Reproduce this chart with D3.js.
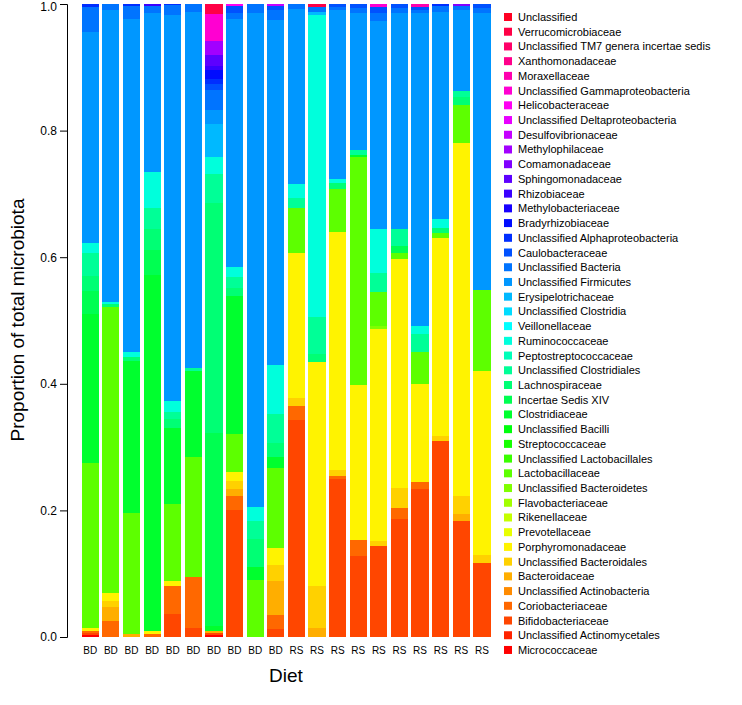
<!DOCTYPE html>
<html>
<head>
<meta charset="utf-8">
<script src="https://cdn.jsdelivr.net/npm/d3@7"></script>
<style>
body { margin: 0; background: #fff; }
text { font-family: "Liberation Sans", Arial, sans-serif; fill: #000; }
</style>
</head>
<body>
<script>
// families, bottom of the stack first
var families = ["Micrococcaceae", "Unclassified Actinomycetales", "Bifidobacteriaceae",
  "Coriobacteriaceae", "Unclassified Actinobacteria", "Bacteroidaceae",
  "Unclassified Bacteroidales", "Porphyromonadaceae", "Prevotellaceae", "Rikenellaceae",
  "Flavobacteriaceae", "Unclassified Bacteroidetes", "Lactobacillaceae",
  "Unclassified Lactobacillales", "Streptococcaceae", "Unclassified Bacilli",
  "Clostridiaceae", "Incertae Sedis XIV", "Lachnospiraceae", "Unclassified Clostridiales",
  "Peptostreptococcaceae", "Ruminococcaceae", "Veillonellaceae", "Unclassified Clostridia",
  "Erysipelotrichaceae", "Unclassified Firmicutes", "Unclassified Bacteria",
  "Caulobacteraceae", "Unclassified Alphaproteobacteria", "Bradyrhizobiaceae",
  "Methylobacteriaceae", "Rhizobiaceae", "Sphingomonadaceae", "Comamonadaceae",
  "Methylophilaceae", "Desulfovibrionaceae", "Unclassified Deltaproteobacteria",
  "Helicobacteraceae", "Unclassified Gammaproteobacteria", "Moraxellaceae",
  "Xanthomonadaceae", "Unclassified TM7 genera incertae sedis", "Verrucomicrobiaceae",
  "Unclassified"];

var diets = ["BD", "BD", "BD", "BD", "BD", "BD", "BD", "BD", "BD", "BD",
             "RS", "RS", "RS", "RS", "RS", "RS", "RS", "RS", "RS", "RS"];

var yTicks = [0, 0.2, 0.4, 0.6, 0.8, 1.0];

// proportion of each family in each sample
var bd1 = [["Micrococcaceae", 0.003], ["Bifidobacteriaceae", 0.004], ["Coriobacteriaceae", 0.003],
  ["Porphyromonadaceae", 0.005], ["Lactobacillaceae", 0.260], ["Clostridiaceae", 0.235],
  ["Incertae Sedis XIV", 0.037], ["Lachnospiraceae", 0.023], ["Unclassified Clostridiales", 0.036],
  ["Ruminococcaceae", 0.016], ["Unclassified Firmicutes", 0.334], ["Unclassified Bacteria", 0.040],
  ["Unclassified Alphaproteobacteria", 0.004]];
var bd2 = [["Coriobacteriaceae", 0.025], ["Bacteroidaceae", 0.022], ["Unclassified Bacteroidales", 0.010],
  ["Porphyromonadaceae", 0.013], ["Lactobacillaceae", 0.452], ["Lachnospiraceae", 0.004],
  ["Ruminococcaceae", 0.004], ["Unclassified Firmicutes", 0.460], ["Unclassified Bacteria", 0.010]];
var bd3 = [["Bacteroidaceae", 0.004], ["Lactobacillaceae", 0.192], ["Clostridiaceae", 0.240],
  ["Lachnospiraceae", 0.007], ["Ruminococcaceae", 0.007], ["Unclassified Firmicutes", 0.527],
  ["Unclassified Bacteria", 0.020], ["Unclassified Alphaproteobacteria", 0.003]];
var bd4 = [["Coriobacteriaceae", 0.005], ["Porphyromonadaceae", 0.004], ["Clostridiaceae", 0.563],
  ["Incertae Sedis XIV", 0.040], ["Lachnospiraceae", 0.033], ["Unclassified Clostridiales", 0.033],
  ["Ruminococcaceae", 0.057], ["Unclassified Firmicutes", 0.250], ["Unclassified Bacteria", 0.012],
  ["Rhizobiaceae", 0.003]];
var bd5 = [["Bifidobacteriaceae", 0.036], ["Coriobacteriaceae", 0.045], ["Porphyromonadaceae", 0.007],
  ["Lactobacillaceae", 0.122], ["Clostridiaceae", 0.120], ["Lachnospiraceae", 0.015],
  ["Unclassified Clostridiales", 0.010], ["Ruminococcaceae", 0.018], ["Unclassified Firmicutes", 0.610],
  ["Unclassified Bacteria", 0.015], ["Unclassified Alphaproteobacteria", 0.002]];
var bd6 = [["Bifidobacteriaceae", 0.015], ["Coriobacteriaceae", 0.080], ["Lactobacillaceae", 0.190],
  ["Clostridiaceae", 0.135], ["Unclassified Clostridiales", 0.005], ["Unclassified Firmicutes", 0.562],
  ["Unclassified Bacteria", 0.013]];
var bd7 = [["Micrococcaceae", 0.003], ["Bifidobacteriaceae", 0.004], ["Bacteroidaceae", 0.003],
  ["Clostridiaceae", 0.007], ["Incertae Sedis XIV", 0.306], ["Lachnospiraceae", 0.362],
  ["Unclassified Clostridiales", 0.046], ["Ruminococcaceae", 0.028], ["Erysipelotrichaceae", 0.051],
  ["Unclassified Firmicutes", 0.023], ["Unclassified Bacteria", 0.031], ["Caulobacteraceae", 0.010],
  ["Unclassified Alphaproteobacteria", 0.008], ["Bradyrhizobiaceae", 0.013], ["Rhizobiaceae", 0.007],
  ["Sphingomonadaceae", 0.017], ["Methylophilaceae", 0.023],
  ["Unclassified Gammaproteobacteria", 0.042], ["Verrucomicrobiaceae", 0.016]];
var bd8 = [["Bifidobacteriaceae", 0.200], ["Coriobacteriaceae", 0.022], ["Bacteroidaceae", 0.012],
  ["Unclassified Bacteroidales", 0.012], ["Porphyromonadaceae", 0.014], ["Lactobacillaceae", 0.060],
  ["Clostridiaceae", 0.218], ["Lachnospiraceae", 0.014], ["Unclassified Clostridiales", 0.016],
  ["Ruminococcaceae", 0.017], ["Unclassified Firmicutes", 0.391], ["Unclassified Bacteria", 0.009],
  ["Caulobacteraceae", 0.012], ["Helicobacteraceae", 0.003]];
var bd9 = [["Lactobacillaceae", 0.090], ["Clostridiaceae", 0.020], ["Lachnospiraceae", 0.045],
  ["Unclassified Clostridiales", 0.028], ["Ruminococcaceae", 0.022], ["Unclassified Firmicutes", 0.781],
  ["Unclassified Bacteria", 0.014]];
var bd10 = [["Bifidobacteriaceae", 0.012], ["Coriobacteriaceae", 0.022], ["Bacteroidaceae", 0.055],
  ["Unclassified Bacteroidales", 0.025], ["Porphyromonadaceae", 0.026], ["Lactobacillaceae", 0.127],
  ["Clostridiaceae", 0.018], ["Lachnospiraceae", 0.022], ["Unclassified Clostridiales", 0.045],
  ["Ruminococcaceae", 0.078], ["Unclassified Firmicutes", 0.545], ["Unclassified Bacteria", 0.015],
  ["Caulobacteraceae", 0.007], ["Desulfovibrionaceae", 0.003]];
var rs1 = [["Bifidobacteriaceae", 0.343], ["Coriobacteriaceae", 0.022], ["Unclassified Bacteroidales", 0.012],
  ["Porphyromonadaceae", 0.229], ["Lactobacillaceae", 0.072], ["Unclassified Clostridiales", 0.015],
  ["Ruminococcaceae", 0.022], ["Unclassified Firmicutes", 0.277], ["Unclassified Bacteria", 0.008]];
var rs2 = [["Bacteroidaceae", 0.014], ["Unclassified Bacteroidales", 0.066], ["Porphyromonadaceae", 0.355],
  ["Lachnospiraceae", 0.012], ["Unclassified Clostridiales", 0.058], ["Ruminococcaceae", 0.478],
  ["Erysipelotrichaceae", 0.005], ["Unclassified Bacteria", 0.008], ["Verrucomicrobiaceae", 0.004]];
var rs3 = [["Bifidobacteriaceae", 0.249], ["Coriobacteriaceae", 0.006], ["Unclassified Bacteroidales", 0.009],
  ["Porphyromonadaceae", 0.376], ["Lactobacillaceae", 0.068], ["Lachnospiraceae", 0.009],
  ["Ruminococcaceae", 0.007], ["Unclassified Firmicutes", 0.266], ["Unclassified Bacteria", 0.005],
  ["Caulobacteraceae", 0.005]];
var rs4 = [["Bifidobacteriaceae", 0.128], ["Coriobacteriaceae", 0.026], ["Porphyromonadaceae", 0.244],
  ["Lactobacillaceae", 0.360], ["Clostridiaceae", 0.003], ["Unclassified Clostridiales", 0.009],
  ["Unclassified Firmicutes", 0.216], ["Unclassified Bacteria", 0.008], ["Caulobacteraceae", 0.006]];
var rs5 = [["Bifidobacteriaceae", 0.144], ["Unclassified Bacteroidales", 0.008], ["Porphyromonadaceae", 0.334],
  ["Unclassified Bacteroidetes", 0.006], ["Lactobacillaceae", 0.053], ["Unclassified Clostridiales", 0.030],
  ["Ruminococcaceae", 0.070], ["Unclassified Firmicutes", 0.328], ["Unclassified Bacteria", 0.013],
  ["Caulobacteraceae", 0.010], ["Unclassified Gammaproteobacteria", 0.004]];
var rs6 = [["Bifidobacteriaceae", 0.186], ["Coriobacteriaceae", 0.018], ["Unclassified Bacteroidales", 0.031],
  ["Porphyromonadaceae", 0.362], ["Lactobacillaceae", 0.009], ["Incertae Sedis XIV", 0.012],
  ["Unclassified Clostridiales", 0.027], ["Unclassified Firmicutes", 0.341], ["Unclassified Bacteria", 0.007],
  ["Caulobacteraceae", 0.007]];
var rs7 = [["Bifidobacteriaceae", 0.234], ["Coriobacteriaceae", 0.011], ["Porphyromonadaceae", 0.155],
  ["Lactobacillaceae", 0.050], ["Unclassified Clostridiales", 0.028], ["Ruminococcaceae", 0.013],
  ["Unclassified Firmicutes", 0.494], ["Unclassified Bacteria", 0.005], ["Caulobacteraceae", 0.005],
  ["Moraxellaceae", 0.005]];
var rs8 = [["Bifidobacteriaceae", 0.310], ["Unclassified Bacteroidales", 0.008], ["Porphyromonadaceae", 0.312],
  ["Lactobacillaceae", 0.008], ["Lachnospiraceae", 0.008], ["Ruminococcaceae", 0.014],
  ["Unclassified Firmicutes", 0.328], ["Unclassified Bacteria", 0.009],
  ["Unclassified Alphaproteobacteria", 0.003]];
var rs9 = [["Bifidobacteriaceae", 0.184], ["Bacteroidaceae", 0.010], ["Unclassified Bacteroidales", 0.028],
  ["Porphyromonadaceae", 0.558], ["Lactobacillaceae", 0.060], ["Lachnospiraceae", 0.013],
  ["Unclassified Clostridiales", 0.009], ["Unclassified Firmicutes", 0.128], ["Unclassified Bacteria", 0.007],
  ["Comamonadaceae", 0.003]];
var rs10 = [["Bifidobacteriaceae", 0.117], ["Unclassified Bacteroidales", 0.013], ["Porphyromonadaceae", 0.290],
  ["Lactobacillaceae", 0.128], ["Unclassified Firmicutes", 0.438], ["Unclassified Bacteria", 0.007],
  ["Caulobacteraceae", 0.007]];

var samples = [bd1, bd2, bd3, bd4, bd5, bd6, bd7, bd8, bd9, bd10,
               rs1, rs2, rs3, rs4, rs5, rs6, rs7, rs8, rs9, rs10];

var w = 742;
var h = 705;
var svg = d3.select("body").append("svg")
    .attr("width", w)
    .attr("height", h);

// one row per sample, zero for families that are absent
var table = samples.map(function(s, i) {
  var row = {id: i};
  families.forEach(function(f) { row[f] = 0; });
  s.forEach(function(p) { row[p[0]] = p[1]; });
  return row;
});
var layers = d3.stack().keys(families)(table);

var x = d3.scaleBand()
    .domain(d3.range(samples.length))
    .range([81.7, 490.5])
    .paddingInner(1 / 6)
    .paddingOuter(0);

var y = d3.scaleLinear()
    .domain([0, 1])
    .range([637, 4]);

// rainbow palette, hue i/n
var colour = d3.scaleOrdinal()
    .domain(families)
    .range(families.map(function(f, i) {
      return d3.hsl(i / families.length * 360, 1, 0.5).formatHex();
    }));

// Bars
svg.append("g").selectAll("g")
  .data(layers)
  .join("g")
    .attr("fill", function(d) { return colour(d.key); })
  .selectAll("rect")
  .data(function(d) { return d.filter(function(s) { return s[1] > s[0]; }); })
  .join("rect")
    .attr("x", function(d) { return x(d.data.id); })
    .attr("y", function(d) { return y(d[1]); })
    .attr("width", x.bandwidth())
    .attr("height", function(d) { return y(d[0]) - y(d[1]); })
    .attr("shape-rendering", "crispEdges");

// Y axis
var yAxis = svg.append("g")
    .attr("transform", "translate(67,0)")
    .call(d3.axisLeft(y).tickValues(yTicks).tickFormat(d3.format(".1f")).tickSize(7).tickPadding(3));
yAxis.selectAll("text").style("font-size", "12px").style("font-family", "Liberation Sans, Arial, sans-serif");
yAxis.select(".domain").attr("stroke", "#000");
// keep the top label inside the picture
yAxis.selectAll(".tick text").filter(function(d) { return d === 1; }).attr("y", 3);

svg.append("text")
    .attr("transform", "translate(17,320) rotate(-90)")
    .attr("text-anchor", "middle")
    .attr("dominant-baseline", "central")
    .style("font-size", "19px")
    .text("Proportion of total microbiota");

// X labels
var xAxis = svg.append("g")
    .attr("transform", "translate(0,644)")
    .call(d3.axisBottom(x).tickSize(0).tickFormat(function(i) { return diets[i]; }));
xAxis.select(".domain").remove();
xAxis.selectAll("text").style("font-size", "10px").style("font-family", "Liberation Sans, Arial, sans-serif");

svg.append("text")
    .attr("x", 286)
    .attr("y", 675)
    .attr("text-anchor", "middle")
    .attr("dominant-baseline", "central")
    .style("font-size", "19px")
    .text("Diet");

// Legend, top entry is the top of the stack
var legendOrder = families.slice().reverse();
var legend = svg.append("g").selectAll("g")
  .data(legendOrder)
  .join("g")
    .attr("transform", function(d, i) { return "translate(504," + (17 + i * 14.72) + ")"; });

legend.append("rect")
    .attr("x", 0)
    .attr("y", -4)
    .attr("width", 8)
    .attr("height", 8)
    .attr("fill", function(d) { return colour(d); });

legend.append("text")
    .attr("x", 14)
    .attr("y", 0)
    .attr("dominant-baseline", "central")
    .style("font-size", "11px")
    .text(function(d) { return d; });
</script>
</body>
</html>
